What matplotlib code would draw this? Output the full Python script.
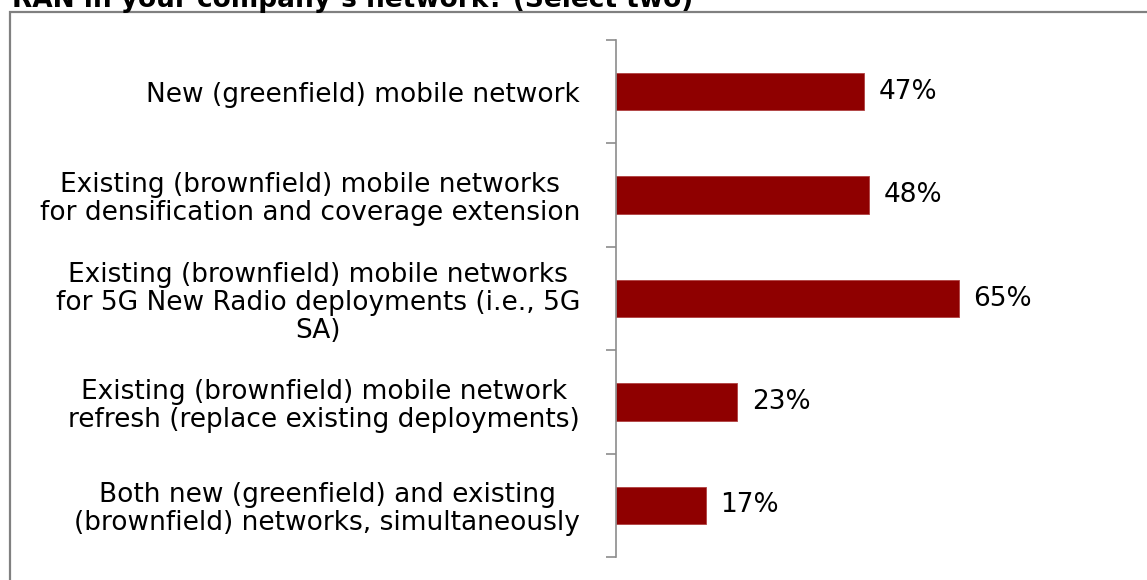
import matplotlib
matplotlib.use("Agg")
import matplotlib.pyplot as plt
from matplotlib.patches import Rectangle

categories = [
    "New (greenfield) mobile network",
    "Existing (brownfield) mobile networks\nfor densification and coverage extension",
    "Existing (brownfield) mobile networks\nfor 5G New Radio deployments (i.e., 5G\nSA)",
    "Existing (brownfield) mobile network\nrefresh (replace existing deployments)",
    "Both new (greenfield) and existing\n(brownfield) networks, simultaneously",
]
values = [47, 48, 65, 23, 17]
value_labels = ["47%", "48%", "65%", "23%", "17%"]
title = "RAN in your company\u2019s network? (Select two)"

plt.rcParams["font.family"] = ["DejaVu Sans"]
FS = 19

W, H = 1147, 580
fig = plt.figure(figsize=(W / 100, H / 100), dpi=100)

# plot area
left, right = 616 / W, 1143 / W
top, bottom = 1 - 40 / H, 1 - 557 / H
ax = fig.add_axes([left, bottom, right - left, top - bottom])

n = len(categories)
ypos = list(range(n))
ax.barh(ypos, values, height=0.36, color="#8F0000", edgecolor="#B04040", linewidth=0.6)
ax.set_xlim(0, 100)
ax.set_ylim(n - 0.5, -0.5)

for y, v, lab in zip(ypos, values, value_labels):
    ax.annotate(lab, xy=(v, y), xytext=(15, 0), textcoords="offset pixels",
                ha="left", va="center", fontsize=FS, color="black")

for s in ["top", "right", "bottom"]:
    ax.spines[s].set_visible(False)
ax.spines["left"].set_color("#8C8C8C")
ax.spines["left"].set_linewidth(1.2)
ax.set_xticks([])
ax.set_yticks(ypos)
ax.set_yticklabels(categories, fontsize=FS, multialignment="center", linespacing=1.1)
ax.tick_params(axis="y", which="major", length=0, pad=26)
ax.set_yticks([i - 0.5 for i in range(n + 1)], minor=True)
ax.tick_params(axis="y", which="minor", length=7, width=1.2, color="#8C8C8C", direction="out")

# outer frame, clipped by the canvas on the right and bottom
fig.patches.append(Rectangle((10 / W, -0.05), 1.2, 1 - 12 / H + 0.05, transform=fig.transFigure,
                             fill=False, edgecolor="#808080", linewidth=1.6))

fig.text(12 / W, 1 - 7 / H, title, fontsize=FS, fontweight="bold", ha="left", va="baseline",
         color="black")

fig.savefig("out.png", dpi=100, facecolor="white")
